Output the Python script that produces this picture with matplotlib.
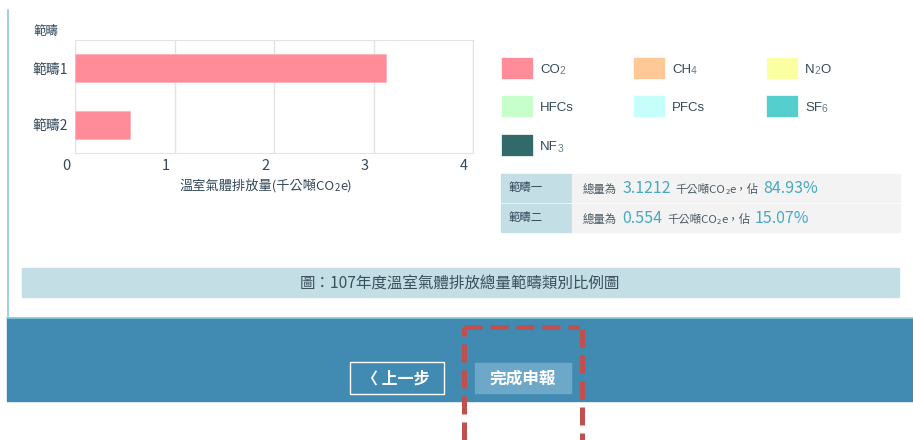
import re
import matplotlib.pyplot as plt
import matplotlib.transforms as mtransforms
from matplotlib.patches import Rectangle, FancyBboxPatch

# data
scopes = ['範疇1', '範疇2']
scope_names = ['範疇一', '範疇二']
emissions = [3.1212, 0.554]          # 千公噸CO2e
shares = [84.93, 15.07]              # %
gases = ['CO2', 'CH4', 'N2O', 'HFCs', 'PFCs', 'SF6', 'NF3']
gas_colors = ['#FF8C98', '#FFC896', '#FAFFA2', '#C6FFCC', '#C6FFFA', '#54CFCE', '#326A69']
x_ticks = [0, 1, 2, 3, 4]

CJK = ['Noto Sans CJK TC', 'DejaVu Sans']
LAT = ['Liberation Sans', 'DejaVu Sans']
TXT = '#34495a'
TEAL = '#45A9C2'

plt.rcParams['font.family'] = CJK

W, H = 913, 440
fig = plt.figure(figsize=(W / 100, H / 100), dpi=100)

# page layer in pixel coordinates
page = fig.add_axes([0, 0, 1, 1], zorder=0)
page.set_xlim(0, W)
page.set_ylim(H, 0)
page.axis('off')
renderer = fig.canvas.get_renderer()


def rich(x, y, parts, ha='left', family=CJK):
    # parts: (text, size, color, dy, gap, weight)
    texts, widths = [], []
    for s, size, color, dy, gap, weight in parts:
        t = page.text(0, y + dy, s, fontsize=size, color=color, va='baseline',
                      ha='left', family=family, fontweight=weight)
        widths.append(t.get_window_extent(renderer=renderer).width + gap)
        texts.append(t)
    x0 = x - sum(widths) / 2 if ha == 'center' else x
    for t, w in zip(texts, widths):
        t.set_x(x0)
        x0 += w


def chem(label, size, color, sub_size, dy=1.5):
    parts = []
    for piece in re.findall(r'\d+|\D+', label):
        if piece.isdigit():
            parts.append((piece, sub_size, '#6b7c86', dy, 0, 'normal'))
        else:
            parts.append((piece, size, color, 0, 0, 'normal'))
    return parts


# white panel with light blue left border, blue footer band
page.add_patch(Rectangle((7, 318), W - 7, 83, color='#418AB2', zorder=1))
page.plot([7, W], [318.5, 318.5], color='#8CC8DA', lw=1.2, zorder=2)
page.plot([7.5, 7.5], [10, 316], color='#8CC8DA', lw=1.2, zorder=2)

# chart
ax = fig.add_axes([75 / W, 1 - 153 / H, 398 / W, 113 / H], zorder=1)
ypos = list(range(len(scopes)))
ax.barh(ypos, emissions, height=0.5, color=gas_colors[0], edgecolor='#FFB3BB', linewidth=0.6, zorder=3)
ax.set_ylim(len(scopes) - 0.5, -0.5)
ax.set_xlim(x_ticks[0], x_ticks[-1])
ax.set_xticks(x_ticks)
ax.set_yticks(ypos)
ax.set_yticklabels(scopes, fontsize=10, color=TXT)
ax.set_xticklabels([str(v) for v in x_ticks], fontsize=10.5, color=TXT)
ax.tick_params(length=0)
ax.tick_params(axis='x', pad=4)
ax.tick_params(axis='y', pad=5)
shift = mtransforms.ScaledTranslation(-9 / 100, 0, fig.dpi_scale_trans)
for lab in ax.get_xticklabels():
    lab.set_transform(lab.get_transform() + shift)
ax.grid(axis='x', color='#E3E3E3', lw=1)
for sp in ax.spines.values():
    sp.set_color('#E3E3E3')

page.text(33, 31, '範疇', fontsize=9, color=TXT, va='center', ha='left')
rich(266, 190, [('溫室氣體排放量(千公噸CO', 9.5, TXT, 0, 0, 'normal'),
                ('2', 7, TXT, 1, 0, 'normal'),
                ('e)', 9.5, TXT, 0, 0, 'normal')], ha='center')

# legend
cols = [501, 633, 766]
rows = [68, 106, 145]
for i, (g, c) in enumerate(zip(gases, gas_colors)):
    bx, by = cols[i % 3], rows[i // 3]
    page.add_patch(Rectangle((bx, by - 11), 32, 22, facecolor=c, edgecolor='white', lw=0.5, zorder=2))
    rich(bx + 39, by + 5, chem(g, 9.5, TXT, 7.5), family=LAT)

# summary table
row_top = [174, 204]
for top, name, v, p in zip(row_top, scope_names, emissions, shares):
    page.add_patch(Rectangle((501, top), 71, 28, color='#C4DEE6', zorder=2))
    page.add_patch(Rectangle((572, top), 328, 28, color='#F3F3F3', zorder=2))
    page.text(509, top + 14, name, fontsize=8.2, color=TXT, va='center', ha='left', zorder=3)
    rich(583, top + 19, [('總量為', 8.2, '#4a5a64', 0, 5, 'normal'),
                         (f'{v}', 11.5, TEAL, 0, 5, 'normal'),
                         ('千公噸CO', 8.2, '#4a5a64', 0, 0, 'normal'),
                         ('2', 5.5, '#4a5a64', 1, 0, 'normal'),
                         ('e，佔', 8.2, '#4a5a64', 0, 4, 'normal'),
                         (f'{p:.2f}%', 11.5, TEAL, 0, 0, 'normal')])

# caption bar
page.add_patch(Rectangle((22, 268), 877, 29, color='#C4DEE6', zorder=2))
page.text(460, 283, '圖：107年度溫室氣體排放總量範疇類別比例圖', fontsize=11.2, color='#3a4f5c',
          va='center', ha='center', zorder=3)

# buttons
page.add_patch(Rectangle((349.5, 362.5), 94, 32, facecolor='none', edgecolor='white', lw=1, zorder=3))
page.text(396, 379, '〈 上一步', fontsize=11.5, color='white', va='center', ha='center',
          fontweight='bold', zorder=4)
page.add_patch(Rectangle((475, 363), 96, 30, color='#6EA8C9', zorder=3))
page.text(523, 378.5, '完成申報', fontsize=12, color='white', va='center', ha='center',
          fontweight='bold', zorder=4)

# red dashed highlight
dash = dict(color='#C0504D', lw=3.6, linestyle=(0, (3.6, 1.6)), zorder=5, solid_capstyle='butt')
page.plot([464, 464], [H, 327], **dash)
page.plot([464, 579], [327, 327], **dash)
page.plot([582, 582], [329, H], **dash)

fig.savefig('out.png', dpi=100)
